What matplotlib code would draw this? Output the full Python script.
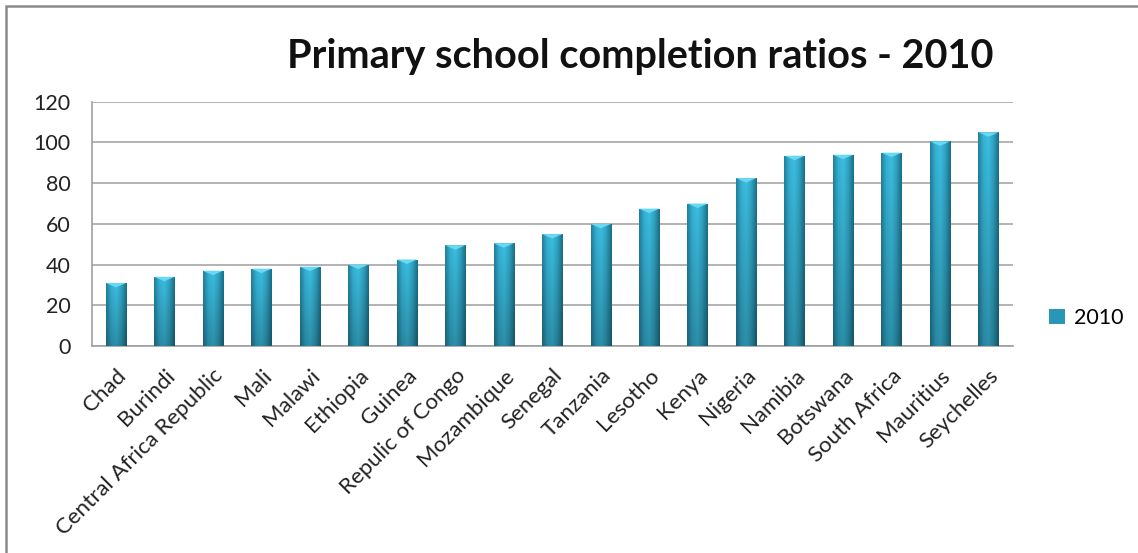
import matplotlib
matplotlib.use("Agg")
import matplotlib.pyplot as plt
import numpy as np
from matplotlib.patches import Rectangle, Patch
from matplotlib.colors import LinearSegmentedColormap

countries = ["Chad", "Burindi", "Central Africa Republic", "Mali", "Malawi", "Ethiopia",
             "Guinea", "Repulic of Congo", "Mozambique", "Senegal", "Tanzania", "Lesotho",
             "Kenya", "Nigeria", "Namibia", "Botswana", "South Africa", "Mauritius", "Seychelles"]
values_2010 = [31, 34, 37, 38, 39, 40, 42.5, 49.5, 50.5, 55, 60, 67.5, 70, 82.5, 93.5, 94, 95, 100.5, 105]
series_name = "2010"
title = "Primary school completion ratios - 2010"
yticks = [0, 20, 40, 60, 80, 100, 120]

plt.rcParams['font.family'] = ['Lato', 'DejaVu Sans']

fig = plt.figure(figsize=(11.38, 5.53), dpi=100)
fig.patch.set_facecolor('white')
ax = fig.add_axes([0.0806, 0.3743, 0.8093, 0.4417])

x = np.arange(len(countries))
bars = ax.bar(x, values_2010, width=0.42, color='#31a8c9', zorder=3, linewidth=0)

# gradient fill for each bar
cmap = LinearSegmentedColormap.from_list('cyl', ['#247f99', '#35b2d6', '#3dbfe0', '#2fa2c2', '#1c6f87'])
grad = np.linspace(0, 1, 64).reshape(1, -1)
for b in bars:
    bx, by = b.get_x(), b.get_y()
    bw, bh = b.get_width(), b.get_height()
    im = ax.imshow(grad, cmap=cmap, aspect='auto', extent=[bx, bx + bw, by, by + bh],
                   zorder=3.5, interpolation='bicubic')
    im.set_clip_path(b)
    # darker toward the bottom
    vg = np.linspace(0, 1, 64).reshape(-1, 1)
    shade = np.zeros((64, 1, 4))
    shade[..., 3] = 0.25 * vg[::-1]
    im2 = ax.imshow(shade, aspect='auto', extent=[bx, bx + bw, by + bh, by],
                    zorder=3.6, interpolation='bicubic')
    im2.set_clip_path(b)
    # top bevel highlight
    ax.fill([bx, bx + bw, bx + bw / 2], [by + bh, by + bh, by + bh - 2.2],
            color='#6ad8f2', zorder=3.8, linewidth=0)

ax.set_xlim(-0.5, len(countries) - 0.5)
ax.set_ylim(0, 120)
ax.set_yticks(yticks)
ax.set_yticklabels([str(t) for t in yticks], fontsize=15.5, color='#222222')
ax.tick_params(axis='y', length=0, pad=15)
ax.set_xticks(x)
ax.set_xticklabels(countries, rotation=45, ha='right', rotation_mode='anchor',
                   fontsize=16, color='#222222')
ax.tick_params(axis='x', length=0, pad=14)
ax.yaxis.grid(True, color='#a6a6a6', linewidth=1.2, zorder=0)
ax.set_axisbelow(True)
for s in ['top', 'right']:
    ax.spines[s].set_visible(False)
for s in ['left', 'bottom']:
    ax.spines[s].set_color('#a0a0a0')
    ax.spines[s].set_linewidth(1.2)

fig.text(0.563, 0.897, title, ha='center', va='center', fontsize=28.5, fontweight='bold', color='#111111')

handle = Patch(facecolor='#2a96b6', edgecolor='none', label=series_name)
fig.legend(handles=[handle], loc='center left', bbox_to_anchor=(0.905, 0.425), frameon=False,
           fontsize=15.5, handlelength=0.75, handleheight=0.75, handletextpad=0.4)

# outer chart border
fig.patches.append(Rectangle((6 / 1138, -0.02), 1.05, 1 - 6 / 553 + 0.02,
                             transform=fig.transFigure, fill=False, edgecolor='#8a8a8a',
                             linewidth=1.8, zorder=0))

fig.savefig('out.png', dpi=100)
